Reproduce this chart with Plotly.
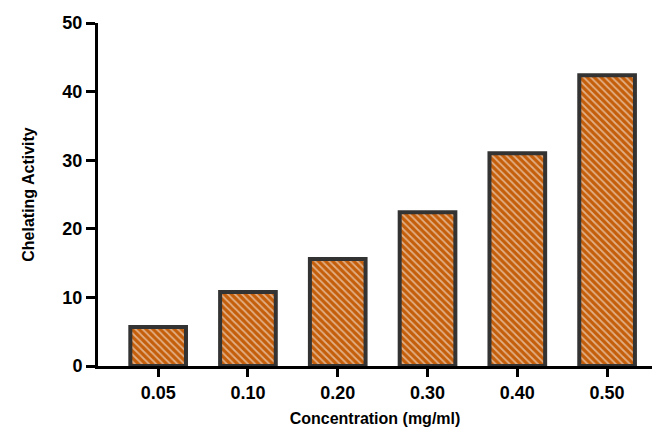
import plotly.graph_objects as go

categories = ["0.05", "0.10", "0.20", "0.30", "0.40", "0.50"]
chelating = [5.7, 10.8, 15.6, 22.4, 31.0, 42.4]
y_ticks = [0, 10, 20, 30, 40, 50]

ORANGE = "#c45e0a"
EDGE = "#333333"
FONT = "Liberation Sans"

fig = go.Figure(go.Bar(
    x=list(range(len(categories))),
    y=chelating,
    width=0.62,
    marker=dict(
        color=ORANGE,
        line=dict(color=EDGE, width=4),
        pattern=dict(shape="\\", fgcolor="white", bgcolor=ORANGE,
                     size=5, solidity=0.35, fillmode="overlay"),
    ),
    hoverinfo="skip",
))

fig.update_layout(
    width=657, height=431,
    margin=dict(l=98, r=5, t=23, b=65),
    plot_bgcolor="white", paper_bgcolor="white",
    showlegend=False,
    font=dict(family=FONT, color="black"),
    xaxis=dict(
        range=[-0.67, 5.5],
        tickmode="array",
        tickvals=list(range(len(categories))),
        ticktext=["<b>%s</b>" % c for c in categories],
        tickfont=dict(size=18, family=FONT, color="black"),
        showline=True, linecolor="black", linewidth=3,
        ticks="outside", ticklen=8, tickwidth=3, tickcolor="black",
        showgrid=False, zeroline=False,
        title=dict(text="<b>Concentration (mg/ml)</b>",
                   font=dict(size=16, family=FONT, color="black"),
                   standoff=12),
    ),
    yaxis=dict(
        range=[0, 50],
        tickmode="array",
        tickvals=y_ticks,
        ticktext=["<b>%d</b>" % v for v in y_ticks],
        tickfont=dict(size=18, family=FONT, color="black"),
        showline=True, linecolor="black", linewidth=3,
        ticks="outside", ticklen=9, tickwidth=3, tickcolor="black",
        showgrid=False, zeroline=False,
        title=dict(text="<b>Chelating Activity</b>",
                   font=dict(size=16, family=FONT, color="black"),
                   standoff=24),
    ),
)

fig.write_html("out.html")
